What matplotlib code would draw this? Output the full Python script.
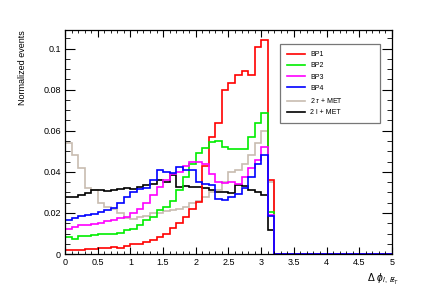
import numpy as np
import matplotlib.pyplot as plt
from matplotlib.ticker import MultipleLocator, FuncFormatter

plt.rcParams['font.family'] = ['Liberation Sans', 'DejaVu Sans']
plt.rcParams['mathtext.fontset'] = 'custom'
plt.rcParams['mathtext.rm'] = 'Liberation Sans'
plt.rcParams['mathtext.it'] = 'Liberation Sans:italic'

# bin edges: 0.1 wide from 0 to 5, only the first 32 bins are filled
edges = np.round(np.arange(0, 5.01, 0.1), 2)

bp1 = [0.0020, 0.0020, 0.0022, 0.0025, 0.0025, 0.0030, 0.0030, 0.0035, 0.0030, 0.0040,
       0.0050, 0.0050, 0.0060, 0.0070, 0.0085, 0.0100, 0.0125, 0.0150, 0.0180, 0.0220,
       0.0255, 0.0430, 0.0570, 0.0640, 0.0800, 0.0830, 0.0870, 0.0890, 0.0870, 0.1007,
       0.1040, 0.0360]
bp2 = [0.0083, 0.0072, 0.0086, 0.0090, 0.0091, 0.0096, 0.0096, 0.0099, 0.0104, 0.0115,
       0.0124, 0.0143, 0.0167, 0.0180, 0.0216, 0.0230, 0.0260, 0.0310, 0.0375, 0.0440,
       0.0490, 0.0514, 0.0546, 0.0550, 0.0520, 0.0510, 0.0510, 0.0510, 0.0570, 0.0640,
       0.0684, 0.0205]
bp3 = [0.0124, 0.0130, 0.0140, 0.0143, 0.0148, 0.0153, 0.0160, 0.0167, 0.0177, 0.0180,
       0.0200, 0.0220, 0.0250, 0.0286, 0.0327, 0.0360, 0.0390, 0.0400, 0.0430, 0.0446,
       0.0446, 0.0440, 0.0390, 0.0350, 0.0346, 0.0350, 0.0340, 0.0375, 0.0420, 0.0460,
       0.0520, 0.0190]
bp4 = [0.0164, 0.0177, 0.0183, 0.0189, 0.0197, 0.0205, 0.0216, 0.0226, 0.0250, 0.0278,
       0.0300, 0.0315, 0.0320, 0.0360, 0.0410, 0.0400, 0.0395, 0.0424, 0.0410, 0.0410,
       0.0350, 0.0343, 0.0335, 0.0270, 0.0262, 0.0278, 0.0294, 0.0320, 0.0375, 0.0440,
       0.0480, 0.0184]
tau_met = [0.0540, 0.0480, 0.0420, 0.0320, 0.0310, 0.0250, 0.0230, 0.0220, 0.0200, 0.0175,
           0.0170, 0.0180, 0.0185, 0.0200, 0.0200, 0.0210, 0.0215, 0.0220, 0.0230, 0.0250,
           0.0260, 0.0280, 0.0300, 0.0310, 0.0350, 0.0400, 0.0410, 0.0440, 0.0480, 0.0540,
           0.0600, 0.0350]
lep_met = [0.0278, 0.0278, 0.0286, 0.0297, 0.0310, 0.0314, 0.0307, 0.0310, 0.0319, 0.0320,
           0.0319, 0.0327, 0.0335, 0.0343, 0.0360, 0.0350, 0.0384, 0.0327, 0.0330, 0.0327,
           0.0324, 0.0322, 0.0314, 0.0300, 0.0302, 0.0298, 0.0335, 0.0330, 0.0310, 0.0300,
           0.0286, 0.0116]

labels = ['BP1', 'BP2', 'BP3', 'BP4', r'2 $\tau$ + MET', '2 l + MET']
colors = ['#ff0000', '#00ee00', '#ff00ff', '#0000ff', '#c8bcb0', '#000000']
series = [bp1, bp2, bp3, bp4, tau_met, lep_met]


def pad(vals):
    out = np.zeros(len(edges) - 1)
    out[:len(vals)] = vals
    return out


fig = plt.figure(figsize=(4.36, 3.0), dpi=100)
ax = fig.add_axes([0.149, 0.153, 0.750, 0.747])

handles = [None] * 6
# draw order: backgrounds first, blue last (sits on top along zero)
for k in [4, 5, 0, 1, 2, 3]:
    h = ax.stairs(pad(series[k]), edges, color=colors[k], lw=1.2, baseline=None)
    handles[k] = h

ax.set_xlim(0, 5)
ax.set_ylim(0, 0.109)

ax.xaxis.set_major_locator(MultipleLocator(0.5))
ax.xaxis.set_minor_locator(MultipleLocator(0.1))
ax.yaxis.set_major_locator(MultipleLocator(0.02))
ax.yaxis.set_minor_locator(MultipleLocator(0.005))
ax.xaxis.set_major_formatter(FuncFormatter(lambda v, p: '%g' % round(v, 3)))
ax.yaxis.set_major_formatter(FuncFormatter(lambda v, p: '%g' % round(v, 3)))

ax.tick_params(which='both', direction='in', top=True, right=True, labelsize=6.5)
ax.tick_params(axis='x', which='major', length=5, pad=3)
ax.tick_params(axis='x', which='minor', length=2.5)
ax.tick_params(axis='y', which='major', length=7, pad=3)
ax.tick_params(axis='y', which='minor', length=3.5)
for s in ax.spines.values():
    s.set_linewidth(0.9)

ax.set_ylabel('Normalized events', fontsize=6.5, loc='top', labelpad=12)
ax.text(1.02, -0.075, r'$\Delta\ \phi_{l,\ E\!\!\!/_{T}}$', transform=ax.transAxes,
        ha='right', va='top', fontsize=7.5)

leg = ax.legend(handles, labels, loc='upper left', bbox_to_anchor=(0.657, 0.9375, 0.306, 0.0),
                mode='expand', fontsize=5, frameon=True, fancybox=False,
                handlelength=2.6, handletextpad=0.8, labelspacing=0.62,
                borderpad=1.0, borderaxespad=0)
leg.get_frame().set_edgecolor('#555555')
leg.get_frame().set_linewidth(0.9)

plt.savefig('out.png', dpi=100)
